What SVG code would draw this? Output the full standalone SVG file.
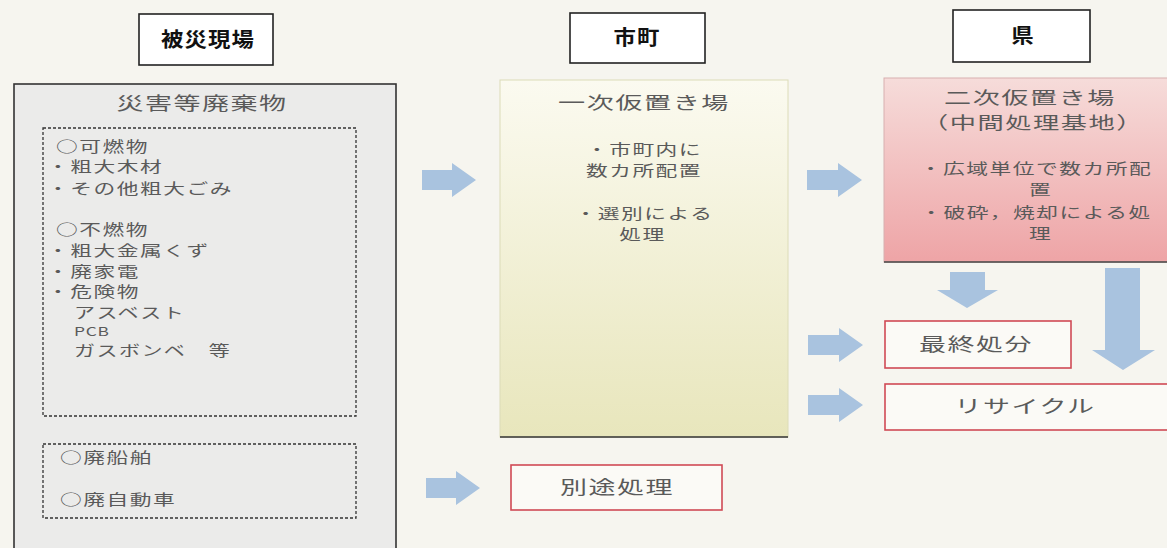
<svg xmlns="http://www.w3.org/2000/svg" width="1167" height="548" viewBox="0 0 1167 548">
<defs>
<linearGradient id="gY" x1="0" y1="0" x2="0" y2="1">
<stop offset="0" stop-color="#fbfaf0"/><stop offset="1" stop-color="#e8e6bc"/>
</linearGradient>
<linearGradient id="gP" x1="0" y1="0" x2="0" y2="1">
<stop offset="0" stop-color="#f6dcda"/><stop offset="1" stop-color="#eea4a6"/>
</linearGradient>
</defs>
<style>
text{font-family:"Noto Sans CJK JP","Noto Sans CJK SC",sans-serif;fill:#5a5a5a;font-size:14.5px;letter-spacing:1px}
.hd{fill:#111;font-weight:bold;font-size:20px}
.tt{font-size:17.5px}
.bx{font-size:18px}
.hbox{fill:#fff;stroke:#222;stroke-width:1.6}
.dash{fill:none;stroke:#333;stroke-width:1.3;stroke-dasharray:3,2}
.red{fill:#fbfaf6;stroke:#d04a55;stroke-width:1.6}
.arr{fill:#a9c3df}
.c{text-anchor:middle}
</style>
<rect width="1167" height="548" fill="#f6f5ef"/>

<g id="hdr-hisai"><rect class="hbox" x="139" y="14" width="134" height="51"/><text class="hd c" transform="translate(208 0) scale(1.12 1)" y="47">被災現場</text></g>
<g id="hdr-shicho"><rect class="hbox" x="570" y="13" width="135" height="50"/><text class="hd c" transform="translate(637 0) scale(1.12 1)" y="45">市町</text></g>
<g id="hdr-ken"><rect class="hbox" x="953" y="10" width="137" height="52"/><text class="hd c" transform="translate(1023 0) scale(1.12 1)" y="43">県</text></g>

<g id="node-waste">
<rect x="14" y="84" width="382" height="470" fill="#ebebea" stroke="#333" stroke-width="1.6"/>
<text class="c" transform="translate(202 0) scale(1.5 1)" y="110" style="font-size:18px">災害等廃棄物</text>
<rect class="dash" x="43" y="128" width="313" height="288"/>
<g transform="translate(56 0) scale(1.5 1)">
<text y="152">○可燃物</text>
<text y="235">○不燃物</text>
</g>
<g transform="translate(47 0) scale(1.5 1)">
<text y="172">・粗大木材</text>
<text y="194">・その他粗大ごみ</text>
<text y="256">・粗大金属くず</text>
<text y="277">・廃家電</text>
<text y="297">・危険物</text>
</g>
<g transform="translate(74 0) scale(1.45 1)">
<text y="318">アスベスト</text>
<text y="336" style="font-size:12px;letter-spacing:0.5px">PCB</text>
<text y="356">ガスボンベ　等</text>
</g>
<rect class="dash" x="43" y="444" width="313" height="74"/>
<g transform="translate(60 0) scale(1.5 1)">
<text y="463">○廃船舶</text>
<text y="505">○廃自動車</text>
</g>
</g>

<g id="node-primary">
<rect x="500" y="80" width="288" height="357" fill="url(#gY)" stroke="#dcdcb8" stroke-width="1"/>
<line x1="500" y1="437" x2="788" y2="437" stroke="#333" stroke-width="1.6"/>
<text class="tt c" transform="translate(644 0) scale(1.55 1)" y="109">一次仮置き場</text>
<g transform="translate(644 0) scale(1.5 1)">
<text class="c" y="155">・市町内に</text>
<text class="c" y="176">数カ所配置</text>
<text class="c" y="219">・選別による</text>
<text class="c" x="-1" y="240">処理</text>
</g>
</g>

<g id="node-betto"><rect class="red" x="511" y="465" width="211" height="45"/><text class="bx c" transform="translate(617 0) scale(1.5 1)" y="494">別途処理</text></g>

<g id="node-secondary">
<rect x="884" y="78" width="290" height="184" fill="url(#gP)" stroke="#d8b0b0" stroke-width="1"/>
<line x1="884" y1="262" x2="1167" y2="262" stroke="#444" stroke-width="1.6"/>
<text class="tt c" transform="translate(1030 0) scale(1.55 1)" y="104">二次仮置き場</text>
<text class="tt c" transform="translate(1033 0) scale(1.5 1)" y="129">（中間処理基地）</text>
<g transform="translate(1036 0) scale(1.5 1)">
<text class="c" y="174">・広域単位で数カ所配</text>
<text class="c" x="3" y="195">置</text>
<text class="c" y="218">・破砕，焼却による処</text>
<text class="c" x="3" y="239">理</text>
</g>
</g>

<g id="node-final"><rect class="red" x="885" y="321" width="186" height="47"/><text class="bx c" transform="translate(976 0) scale(1.5 1)" y="351">最終処分</text></g>
<g id="node-recycle"><rect class="red" x="885" y="384" width="290" height="46"/><text class="bx c" transform="translate(1025 0) scale(1.5 1)" y="413">リサイクル</text></g>

<g id="connectors">
<path class="arr" d="M422,170 H452 V163 L476,180 L452,197 V190 H422 Z"/>
<path class="arr" d="M426,478 H456 V471 L480,488 L456,505 V498 H426 Z"/>
<path class="arr" d="M807,170 H838 V163 L862,180 L838,197 V190 H807 Z"/>
<path class="arr" d="M808,335 H839 V328 L863,345 L839,362 V355 H808 Z"/>
<path class="arr" d="M808,395 H839 V388 L863,405 L839,422 V415 H808 Z"/>
<path class="arr" d="M950,272 H985 V290 H998 L967,308 L937,290 H950 Z"/>
<path class="arr" d="M1105,268 H1140 V350 H1155 L1123,370 L1092,350 H1105 Z"/>
</g>
</svg>
